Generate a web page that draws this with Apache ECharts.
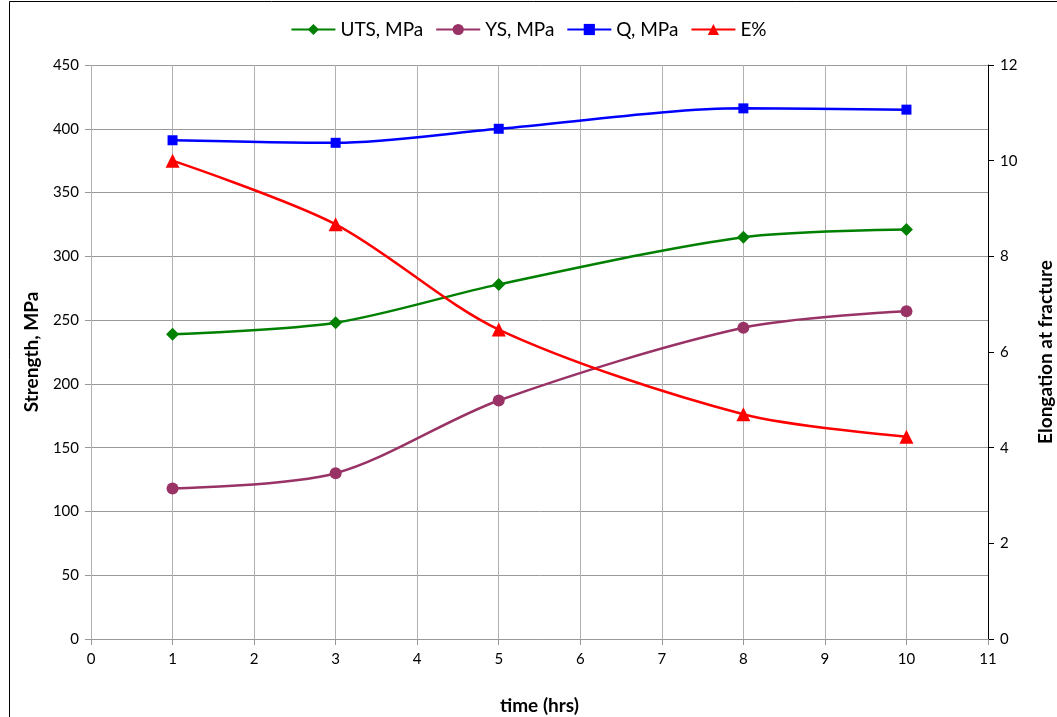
<!DOCTYPE html>
<html><head><meta charset="utf-8">
<script src="https://cdn.jsdelivr.net/npm/echarts@6/dist/echarts.min.js"></script>
<style>html,body{margin:0;padding:0;background:#fff}#c{width:1057px;height:717px}</style>
</head><body><div id="c"></div>
<script>
const times = [1, 3, 5, 8, 10];
const uts = [239, 248, 278, 315, 321];
const ys = [118, 130, 187, 244, 257];
const q = [391, 389, 400, 416, 415];
const elong = [10.0, 8.67, 6.47, 4.70, 4.23];
const seriesNames = ['UTS, MPa', 'YS, MPa', 'Q, MPa', 'E%'];

const pair = arr => times.map((t, i) => [t, arr[i]]);
const font = 'Lato, "Open Sans", sans-serif';
const chart = echarts.init(document.getElementById('c'));
chart.setOption({
  animation: false,
  textStyle: { fontFamily: font },
  grid: { left: 91, right: 69, top: 65, bottom: 78, outerBoundsMode: 'none', containLabel: false },
  graphic: [{ type: 'rect', shape: { x: 9.5, y: 1.5, width: 1100, height: 800 }, style: { fill: 'none', stroke: '#000', lineWidth: 1 }, silent: true }],
  legend: {
    top: 15, left: 'center', itemWidth: 44, itemHeight: 14, itemGap: 12,
    textStyle: { fontSize: 19, color: '#000', fontFamily: font },
    data: seriesNames
  },
  xAxis: {
    type: 'value', min: 0, max: 11, interval: 1,
    name: 'time (hrs)', nameLocation: 'middle', nameGap: 57,
    nameTextStyle: { fontSize: 19, fontWeight: 'bold', color: '#000', fontFamily: font },
    axisLine: { show: true, lineStyle: { color: '#999' } },
    axisTick: { show: true, length: 6, lineStyle: { color: '#999' } },
    axisLabel: { fontSize: 15, color: '#000', margin: 13 },
    splitLine: { show: true, lineStyle: { color: '#b0b0b0' } }
  },
  yAxis: [{
    type: 'value', min: 0, max: 450, interval: 50, position: 'left',
    name: 'Strength, MPa', nameLocation: 'middle', nameGap: 50, nameRotate: 90,
    nameTextStyle: { fontSize: 19, fontWeight: 'bold', color: '#000', fontFamily: font },
    axisLine: { show: false },
    axisTick: { show: true, length: 6, lineStyle: { color: '#999' } },
    axisLabel: { fontSize: 15, color: '#000', margin: 12 },
    splitLine: { show: true, lineStyle: { color: '#999' } }
  }, {
    type: 'value', min: 0, max: 12, interval: 2, position: 'right',
    name: 'Elongation at fracture', nameLocation: 'middle', nameGap: 48, nameRotate: 90,
    nameTextStyle: { fontSize: 19, fontWeight: 'bold', color: '#000', fontFamily: font },
    axisLine: { show: true, lineStyle: { color: '#000' } },
    axisTick: { show: true, inside: false, length: 6, lineStyle: { color: '#000' } },
    axisLabel: { fontSize: 15, color: '#000', margin: 12 },
    splitLine: { show: false }
  }],
  series: [
    { name: seriesNames[0], type: 'line', smooth: 0.3, data: pair(uts), yAxisIndex: 0,
      symbol: 'diamond', symbolSize: 13, lineStyle: { width: 2.5, color: '#008000' }, itemStyle: { color: '#008000' } },
    { name: seriesNames[1], type: 'line', smooth: 0.3, data: pair(ys), yAxisIndex: 0,
      symbol: 'circle', symbolSize: 12, lineStyle: { width: 2.5, color: '#993366' }, itemStyle: { color: '#993366' } },
    { name: seriesNames[2], type: 'line', smooth: 0.3, data: pair(q), yAxisIndex: 0,
      symbol: 'rect', symbolSize: 10, lineStyle: { width: 2.5, color: '#0000ff' }, itemStyle: { color: '#0000ff' } },
    { name: seriesNames[3], type: 'line', smooth: 0.3, data: pair(elong), yAxisIndex: 1,
      symbol: 'triangle', symbolSize: 14, lineStyle: { width: 2.5, color: '#ff0000' }, itemStyle: { color: '#ff0000' } }
  ]
});
</script></body></html>
